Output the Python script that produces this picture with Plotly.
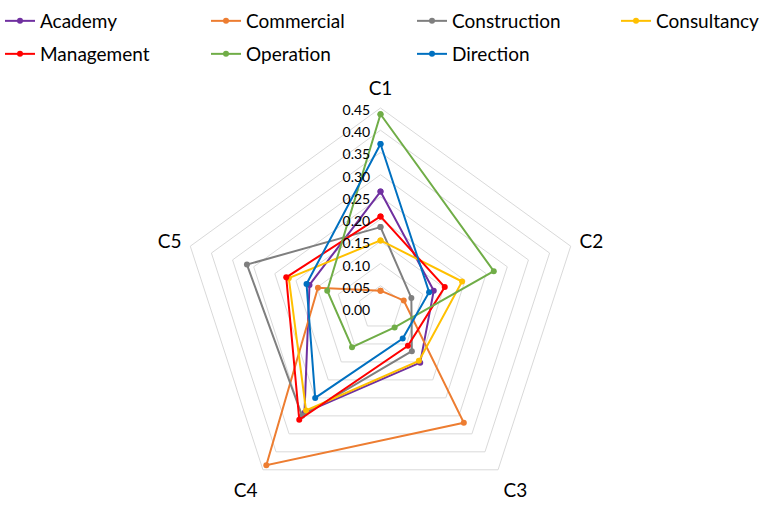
import plotly.graph_objects as go

categories = ["C1", "C2", "C3", "C4", "C5"]
series_names = ["Academy", "Commercial", "Construction", "Consultancy",
                "Management", "Operation", "Direction"]
academy = [0.262, 0.126, 0.152, 0.291, 0.168]
commercial = [0.039, 0.055, 0.319, 0.437, 0.148]
construction = [0.182, 0.073, 0.120, 0.300, 0.316]
consultancy = [0.152, 0.193, 0.147, 0.285, 0.217]
management = [0.206, 0.152, 0.105, 0.311, 0.223]
operation = [0.436, 0.268, 0.054, 0.109, 0.126]
direction = [0.369, 0.115, 0.085, 0.250, 0.175]
radial_ticks = [0.00, 0.05, 0.10, 0.15, 0.20, 0.25, 0.30, 0.35, 0.40, 0.45]

values = [academy, commercial, construction, consultancy, management, operation, direction]
colors = ["#7030A0", "#ED7D31", "#7F7F7F", "#FFC000", "#FF0000", "#70AD47", "#0070C0"]
legends = ["legend", "legend", "legend", "legend3", "legend2", "legend2", "legend2"]

FONT = "Lato"
W, H = 765, 508
fig = go.Figure()
for name, vals, col, lg in zip(series_names, values, colors, legends):
    fig.add_trace(go.Scatterpolar(
        r=vals + vals[:1], theta=categories + categories[:1],
        mode="lines+markers", name=name, legend=lg,
        line=dict(color=col, width=2),
        marker=dict(color=col, size=6),
    ))

cx, cy, R = 380.5, 308.0, 200.0
legend_base = dict(orientation="h", yanchor="middle",
                   font=dict(family=FONT, size=19, color="#000000"),
                   bgcolor="rgba(0,0,0,0)", itemwidth=30, tracegroupgap=0)
fig.update_layout(
    width=W, height=H,
    margin=dict(l=0, r=0, t=0, b=0),
    paper_bgcolor="white", plot_bgcolor="white",
    font=dict(family=FONT, color="#000000"),
    polar=dict(
        domain=dict(x=[(cx - R) / W, (cx + R) / W], y=[(H - cy - R) / H, (H - cy + R) / H]),
        gridshape="linear",
        bgcolor="white",
        radialaxis=dict(range=[0, 0.45], tickvals=radial_ticks, tickformat=".2f",
                        angle=90, side="counterclockwise", showline=False,
                        ticks="", gridcolor="#D9D9D9", gridwidth=1,
                        tickfont=dict(family=FONT, size=14, color="#000000")),
        angularaxis=dict(direction="clockwise", rotation=90, showgrid=False,
                         showline=True, linecolor="#D9D9D9", linewidth=1,
                         ticks="outside", ticklen=5, tickcolor="rgba(0,0,0,0)",
                         tickfont=dict(family=FONT, size=19, color="#000000")),
    ),
    legend=dict(x=0.0, y=1 - 21 / H, xanchor="left", entrywidth=161,
                entrywidthmode="pixels", **legend_base),
    legend2=dict(x=0.0, y=1 - 54 / H, xanchor="left", entrywidth=161,
                 entrywidthmode="pixels", **legend_base),
    legend3=dict(x=1.0, y=1 - 21 / H, xanchor="right", **legend_base),
)
fig.write_html("out.html")
